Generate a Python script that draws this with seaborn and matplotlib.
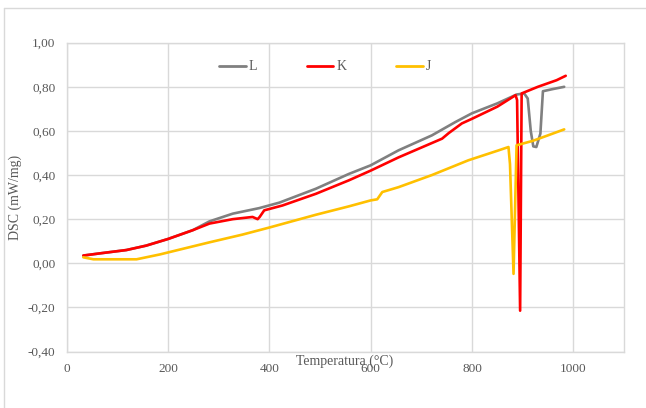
import matplotlib
matplotlib.use("Agg")
import matplotlib.pyplot as plt
import seaborn as sns
import pandas as pd
from matplotlib.lines import Line2D

# ---- data ----
L_T = [33, 66, 118, 157, 200, 249, 282, 328, 380, 420, 492, 557, 600, 655, 721, 767, 800, 850, 888, 903, 910, 916, 921, 927, 935, 940, 960, 982]
L_v = [0.035, 0.045, 0.06, 0.08, 0.11, 0.15, 0.19, 0.225, 0.25, 0.275, 0.338, 0.405, 0.444, 0.512, 0.58, 0.64, 0.68, 0.725, 0.765, 0.77, 0.747, 0.60, 0.53, 0.527, 0.588, 0.78, 0.79, 0.80]

K_T = [33, 66, 118, 157, 200, 249, 282, 328, 367, 377, 381, 390, 426, 492, 557, 600, 655, 741, 754, 780, 800, 850, 886, 889, 895, 898, 930, 967, 985]
K_v = [0.035, 0.045, 0.06, 0.08, 0.11, 0.15, 0.18, 0.20, 0.21, 0.20, 0.21, 0.24, 0.262, 0.315, 0.376, 0.42, 0.48, 0.565, 0.59, 0.634, 0.655, 0.71, 0.762, 0.74, -0.215, 0.77, 0.80, 0.83, 0.85]

J_T = [33, 53, 100, 138, 184, 216, 282, 347, 400, 492, 557, 600, 613, 623, 655, 721, 793, 850, 872, 875, 882, 888, 920, 950, 982]
J_v = [0.027, 0.018, 0.018, 0.018, 0.04, 0.058, 0.095, 0.13, 0.162, 0.22, 0.258, 0.285, 0.29, 0.323, 0.345, 0.40, 0.467, 0.51, 0.527, 0.45, -0.048, 0.535, 0.555, 0.58, 0.607]

series_names = ["L", "K", "J"]
series_colors = ["#808080", "#ff0000", "#ffc000"]
x_ticks = [0, 200, 400, 600, 800, 1000]
y_ticks = [-0.40, -0.20, 0.00, 0.20, 0.40, 0.60, 0.80, 1.00]
y_tick_labels = ["-0,40", "-0,20", "0,00", "0,20", "0,40", "0,60", "0,80", "1,00"]

frames = []
for name, T, v in zip(series_names, [L_T, K_T, J_T], [L_v, K_v, J_v]):
    frames.append(pd.DataFrame({"T": T, "DSC": v, "serie": name, "order": range(len(T))}))
df = pd.concat(frames, ignore_index=True)

sns.set_theme(style="white")
plt.rcParams["font.family"] = ["Liberation Serif", "DejaVu Serif"]

fig = plt.figure(figsize=(6.46, 4.08), dpi=100)
ax = fig.add_axes([66.6 / 646, 1 - 351.5 / 408, (624 - 66.6) / 646, (351.5 - 42.7) / 408])

sns.lineplot(data=df, x="T", y="DSC", hue="serie", hue_order=series_names,
             palette=dict(zip(series_names, series_colors)), sort=False,
             estimator=None, linewidth=1.9, ax=ax, legend=False, zorder=3)

ax.set_xlim(0, 1100)
ax.set_ylim(-0.40, 1.00)
ax.set_xticks(x_ticks)
ax.set_yticks(y_ticks)
ax.set_yticklabels(y_tick_labels)
ax.grid(True, color="#d9d9d9", linewidth=1.0)
ax.set_axisbelow(True)
for s in ax.spines.values():
    s.set_color("#d9d9d9")
    s.set_linewidth(1.0)
ax.tick_params(axis="both", length=0, labelsize=9.5, labelcolor="#595959", pad=8)

ax.set_ylabel("DSC (mW/mg)", fontsize=10, color="#595959", labelpad=4)
ax.set_xlabel("")
fig.text(345 / 646, 1 - 361 / 408, "Temperatura (°C)", ha="center", va="center",
         fontsize=10, color="#595959")

handles = [Line2D([0], [0], color=c, linewidth=2.0) for c in series_colors]
leg = fig.legend(handles, series_names, loc="center", ncol=3,
                 bbox_to_anchor=(325 / 646, 1 - 67 / 408), frameon=False,
                 fontsize=10, handlelength=1.9, handletextpad=0.2,
                 columnspacing=3.6)
for t in leg.get_texts():
    t.set_color("#595959")

# outer chart-area border (partially cropped in the reference)
fig.add_artist(Line2D([4 / 646, 4 / 646], [0, 1 - 8 / 408], transform=fig.transFigure,
                      color="#d9d9d9", linewidth=1.0))
fig.add_artist(Line2D([4 / 646, 1], [1 - 8 / 408, 1 - 8 / 408], transform=fig.transFigure,
                      color="#d9d9d9", linewidth=1.0))

fig.savefig("out.png", dpi=100)
